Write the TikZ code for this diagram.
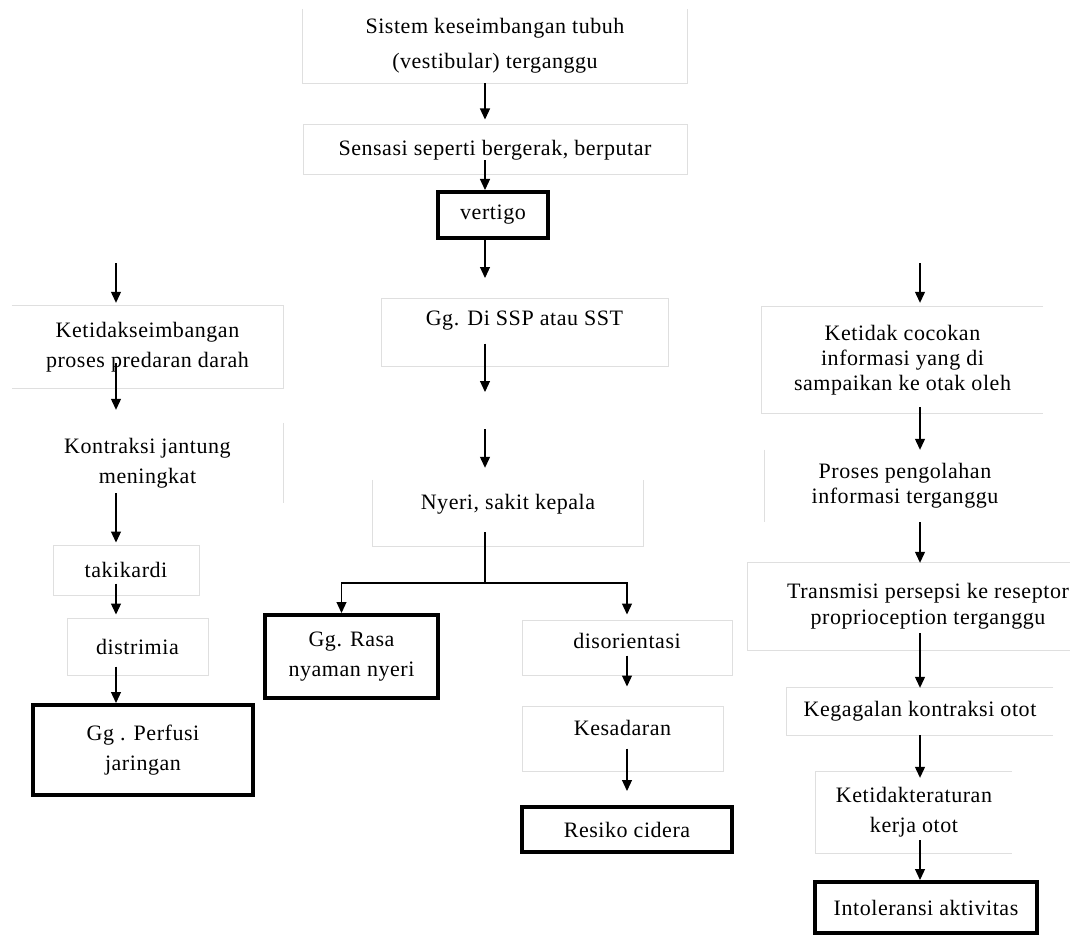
\documentclass[tikz,border=0pt]{standalone}
\usepackage{fontspec}
\setmainfont[LetterSpace=2.5]{Liberation Serif}
\usetikzlibrary{arrows.meta,positioning}

\begin{document}
\begin{tikzpicture}[x=1pt,y=-1pt,
		font={\fontsize{22}{30}\selectfont},
		basic/.style    = {rectangle, align=center, inner sep=2pt},
		box/.style      = {basic, draw=gray!25, line width=1pt},
		openbox/.style  = {basic},
		finalbox/.style = {basic, draw=black, line width=4pt},
		side/.style     = {draw=gray!25, line width=1pt},
		arr/.style      = {-{Triangle[width=10pt,length=11pt]}, line width=1.2pt},
		>=latex]
		
		\useasboundingbox (0,0) rectangle (1070,936);
		\clip (0,0) rectangle (1070,936);
		
		% middle column, from the top
		\node[openbox, minimum width=384pt, minimum height=74pt, font={\fontsize{22}{35}\selectfont}] (sistem) at (495,46) {Sistem keseimbangan tubuh\\(vestibular) terganggu};
		\node[box, minimum width=384pt, minimum height=50pt] (sensasi) at (495,150) {Sensasi seperti bergerak, berputar};
		\node[finalbox, minimum width=110pt, minimum height=46pt] (vertigo) at (493,215) {vertigo};
		\node[box, minimum width=287pt, inner ysep=0pt, text height=27pt, text depth=41pt] (ssp) at (524.5,332) {Gg. Di SSP atau SST};
		\node[openbox, minimum width=270pt, inner ysep=0pt, text height=29pt, text depth=37pt] (nyeri) at (508,513) {Nyeri, sakit kepala};
		\node[finalbox, minimum width=173pt, minimum height=83pt] (rasa) at (351.5,656.5) {Gg. Rasa\\nyaman nyeri};
		\node[box, minimum width=210pt, inner ysep=0pt, text height=28pt, text depth=27pt] (disor) at (627,647.5) {disorientasi};
		\node[box, minimum width=201pt, inner ysep=0pt, text height=29pt, text depth=36pt] (sadar) at (622.5,738.5) {Kesadaran};
		\node[finalbox, minimum width=210pt, minimum height=45pt] (cidera) at (627,829.5) {Resiko cidera};
		
		% left column
		\node[openbox, minimum width=271pt, minimum height=82pt] (ketseimb) at (147.5,347) {Ketidakseimbangan\\proses predaran darah};
		\node[openbox, minimum width=271pt, minimum height=80pt] (kontraksi) at (147.5,463) {Kontraksi jantung\\meningkat};
		\node[box, minimum width=146pt, minimum height=50pt] (taki) at (126,570) {takikardi};
		\node[box, minimum width=141pt, minimum height=57pt] (distrimia) at (137.5,646.5) {distrimia};
		\node[finalbox, minimum width=220pt, minimum height=90pt] (perfusi) at (143,750) {Gg . Perfusi\\jaringan};
		
		% right column
		\node[openbox, minimum width=281pt, minimum height=106pt, font={\fontsize{22}{25}\selectfont}] (cocok) at (902.5,360) {Ketidak cocokan\\informasi yang di\\sampaikan ke otak oleh};
		\node[openbox, minimum width=281pt, minimum height=72pt, font={\fontsize{22}{25}\selectfont}] (olah) at (905,486) {Proses pengolahan\\informasi terganggu};
		\node[openbox, minimum width=360pt, minimum height=87pt, font={\fontsize{22}{26}\selectfont}] (transmisi) at (928,606.5) {Transmisi persepsi ke reseptor\\proprioception terganggu};
		\node[openbox, minimum width=266pt, minimum height=47pt] (gagal) at (920,711.5) {Kegagalan kontraksi otot};
		\node[openbox, minimum width=196pt, minimum height=81pt] (atur) at (914,812.5) {Ketidakteraturan\\kerja otot};
		\node[finalbox, minimum width=222pt, minimum height=51pt] (intol) at (926,907.5) {Intoleransi aktivitas};
		
		% faint boxes that miss some of their sides
		\foreach \n in {sistem,nyeri}
		\draw[side] (\n.north west) |- (\n.south east) -- (\n.north east);
		\foreach \n in {cocok,transmisi,gagal,atur}
		\draw[side] (\n.north east) -- (\n.north west) |- (\n.south east);
		\draw[side] (ketseimb.north west) -- (ketseimb.north east) |- (ketseimb.south west);
		\draw[side] (kontraksi.north east) -- (kontraksi.south east);
		\draw[side] (olah.north west) -- (olah.south west);
		
		% free ends of the arrows
		\coordinate (c0) at (485,278);
		\coordinate (c1) at (485,392);
		\coordinate (c2) at (485,429);
		\coordinate (fork) at (485,583);
		\coordinate (l0) at (116,263);
		\coordinate (r0) at (920,263);
		
		% middle arrows
		\draw[arr] (sistem.south -| c0) -- ([yshift=5pt]sensasi.north -| c0);
		\draw[arr] ([yshift=15pt]sensasi.south -| c0) -- (vertigo.north -| c0);
		\draw[arr] (vertigo.south -| c0) -- (c0);
		\draw[arr] ([yshift=23pt]ssp.south -| c0) -- (c1);
		\draw[arr] (c2) -- ([yshift=12pt]nyeri.north -| c2);
		\draw[line width=1.2pt] ([yshift=14pt]nyeri.south -| fork) -- (fork);
		\draw[arr] (fork) -| ([xshift=-10pt]rasa.north);
		\draw[arr] (fork) -| ([yshift=5pt]disor.north);
		\draw[arr] ([yshift=20pt]disor.south) -- ([yshift=19pt]sadar.north -| disor.south);
		\draw[arr] ([yshift=23pt]sadar.south -| disor.south) -- ([yshift=14pt]cidera.north -| disor.south);
		
		% left arrows
		\draw[arr] (l0) -- ([yshift=3pt]ketseimb.north -| l0);
		\draw[arr] ([yshift=25pt]ketseimb.south -| l0) -- ([yshift=13pt]kontraksi.north -| l0);
		\draw[arr] ([yshift=10pt]kontraksi.south -| l0) -- ([yshift=2pt]taki.north -| l0);
		\draw[arr] ([yshift=12pt]taki.south -| l0) -- ([yshift=3pt]distrimia.north -| l0);
		\draw[arr] ([yshift=9pt]distrimia.south -| l0) -- (perfusi.north -| l0);
		
		% right arrows
		\draw[arr] (r0) -- ([yshift=4pt]cocok.north -| r0);
		\draw[arr] ([yshift=6pt]cocok.south -| r0) -- (olah.north -| r0);
		\draw[arr] (olah.south -| r0) -- (transmisi.north -| r0);
		\draw[arr] ([yshift=17pt]transmisi.south -| r0) -- (gagal.north -| r0);
		\draw[arr] (gagal.south -| r0) -- ([yshift=-6pt]atur.north -| r0);
		\draw[arr] ([yshift=13pt]atur.south -| r0) -- (intol.north -| r0);
		
	\end{tikzpicture}
\end{document}
